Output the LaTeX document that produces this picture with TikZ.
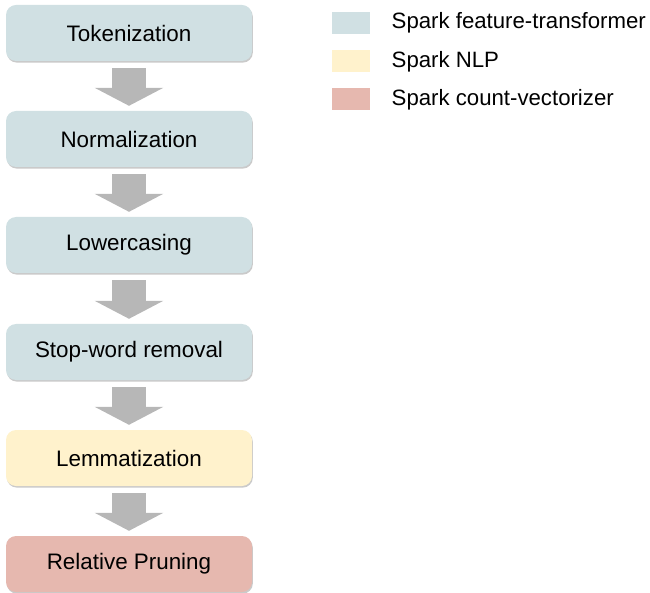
\documentclass[tikz,border=0pt]{standalone}
\usepackage{fontspec}
\setmainfont{Liberation Sans}
\usetikzlibrary{arrows.meta,shadows}
\definecolor{cblue}{HTML}{D0E0E3}
\definecolor{cyellow}{HTML}{FFF2CC}
\definecolor{cred}{HTML}{E6B8AF}
\definecolor{cgrey}{HTML}{B7B7B7}
\tikzset{
  stepbox/.style={rounded corners=10pt, minimum width=246pt, minimum height=56pt,
    inner sep=0pt, font=\fontsize{22.4}{26}\selectfont,
    drop shadow={shadow xshift=0.8pt, shadow yshift=-1.6pt, opacity=0.35, fill=black!60}},
  bigarrow/.style={draw=cgrey, line width=34pt, shorten <=7pt, shorten >=5pt,
    -{Triangle[width=68pt,length=18pt]}, cgrey},
  legsq/.style={minimum width=38pt, minimum height=22pt, inner sep=0pt},
  legtxt/.style={anchor=west, inner sep=0pt, font=\fontsize{22.2}{26}\selectfont}
}
\begin{document}
\begin{tikzpicture}[x=1pt,y=-1pt]
\useasboundingbox (0,0) rectangle (650,593);
\node[stepbox, fill=cblue] (t) at (129,33) {Tokenization};
\node[stepbox, fill=cblue] (n) at (129,139) {Normalization};
\node[stepbox, fill=cblue] (l) at (129,245) {Lowercasing};
\node[stepbox, fill=cblue] (s) at (129,352) {Stop-word removal};
\node[stepbox, fill=cyellow] (m) at (129,458) {Lemmatization};
\node[stepbox, fill=cred] (r) at (129,564) {Relative Pruning};
\draw[bigarrow] (t.south) -- (n.north);
\draw[bigarrow] (n.south) -- (l.north);
\draw[bigarrow] (l.south) -- (s.north);
\draw[bigarrow] (s.south) -- (m.north);
\draw[bigarrow] (m.south) -- (r.north);
\node[legsq, fill=cblue] (q1) at (351,23) {};
\node[legsq, fill=cyellow] (q2) at (351,61.5) {};
\node[legsq, fill=cred] (q3) at (351,99.5) {};
\node[legtxt] (k1) at (391.5,23) {Spark feature-transformer};
\node[legtxt] (k2) at (391.5,61.5) {Spark NLP};
\node[legtxt] (k3) at (391.5,99.5) {Spark count-vectorizer};
\end{tikzpicture}
\end{document}
